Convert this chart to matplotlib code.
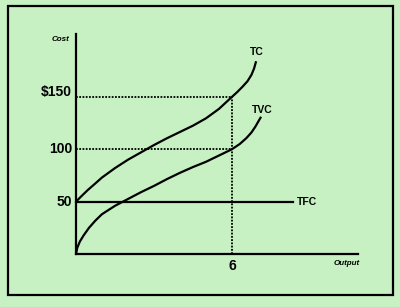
import matplotlib
matplotlib.use("Agg")
import matplotlib.pyplot as plt
from matplotlib.patches import Rectangle

# --- data ---
tc_x = [0, 0.2, 0.45, 0.75, 1, 1.5, 2, 2.5, 3, 3.5, 4, 4.5, 5, 5.5, 6, 6.2, 6.4, 6.6, 6.75, 6.85, 6.93]
tc_y = [50, 55, 61, 67.5, 73, 82, 90, 97, 104, 110.5, 116.5, 122.5, 129.5, 138.5, 150, 154.5, 159.5, 165, 171, 177, 184]
tvc_x = [0, 0.05, 0.15, 0.3, 0.5, 0.75, 1, 1.5, 2, 2.5, 3, 3.5, 4, 4.5, 5, 5.5, 6, 6.3, 6.55, 6.75, 6.9, 7.05, 7.12]
tvc_y = [0, 6, 12, 18, 25, 32, 38, 46, 52.5, 59, 65, 71.5, 77.5, 83, 88, 94, 100, 105, 110.5, 116, 121.5, 128, 131]
tfc_x = [0, 8.35]
tfc_y = [50, 50]
q_star = 6
tc_star = 150
tvc_star = 100
ytick_vals = [150, 100, 50]
ytick_labels = ["$150", "100", "50"]

bg = "#c7f1c3"
fig = plt.figure(figsize=(4.0, 3.07), dpi=100, facecolor=bg)
ax = fig.add_axes([76/400, (307-254)/307, 282/400, 220/307])
ax.set_facecolor(bg)
ax.set_xlim(0, 10.85)
ax.set_ylim(0, 210)
for s in ["top", "right"]:
    ax.spines[s].set_visible(False)
for s in ["left", "bottom"]:
    ax.spines[s].set_linewidth(1.6)
    ax.spines[s].set_color("black")
ax.set_xticks([])
ax.set_yticks([])

lw = 1.6
ax.plot(tc_x, tc_y, color="black", lw=lw, solid_capstyle="butt",
        solid_joinstyle="round", clip_on=False)
ax.plot(tvc_x, tvc_y, color="black", lw=lw, solid_capstyle="butt",
        solid_joinstyle="round", clip_on=False)
ax.plot(tfc_x, tfc_y, color="black", lw=lw, clip_on=False)

dot = dict(color="black", lw=1.3, linestyle=(0, (1, 0.8)))
ax.plot([0, q_star], [tc_star, tc_star], **dot)
ax.plot([0, q_star], [tvc_star, tvc_star], **dot)
ax.plot([q_star, q_star], [0, tc_star], **dot)

font = "Liberation Sans"
for v, lab in zip(ytick_vals, ytick_labels):
    yy = v + 5 if lab.startswith("$") else v
    ax.text(-0.15, yy, lab, ha="right", va="center", fontsize=10,
            fontweight="bold", family=font, clip_on=False)
ax.text(q_star, -5, "6", ha="center", va="top", fontsize=10,
        fontweight="bold", family=font, clip_on=False)

ax.text(-0.6, 205, "Cost", ha="center", va="center", fontsize=5.8,
        fontweight="bold", style="italic", family=font, clip_on=False)
ax.text(10.4, -9, "Output", ha="center", va="center", fontsize=5.8,
        fontweight="bold", style="italic", family=font, clip_on=False)

ax.text(6.95, 193, "TC", ha="center", va="center", fontsize=7.5,
        fontweight="bold", family=font, clip_on=False)
ax.text(7.15, 137, "TVC", ha="center", va="center", fontsize=7.5,
        fontweight="bold", family=font, clip_on=False)
ax.text(8.9, 50, "TFC", ha="center", va="center", fontsize=7.5,
        fontweight="bold", family=font, clip_on=False)

fig.patches.append(Rectangle((8/400, (307-295)/307), 385/400, 289/307,
                             transform=fig.transFigure, fill=False,
                             edgecolor="black", linewidth=1.6))

fig.savefig("out.png", dpi=100, facecolor=bg)
